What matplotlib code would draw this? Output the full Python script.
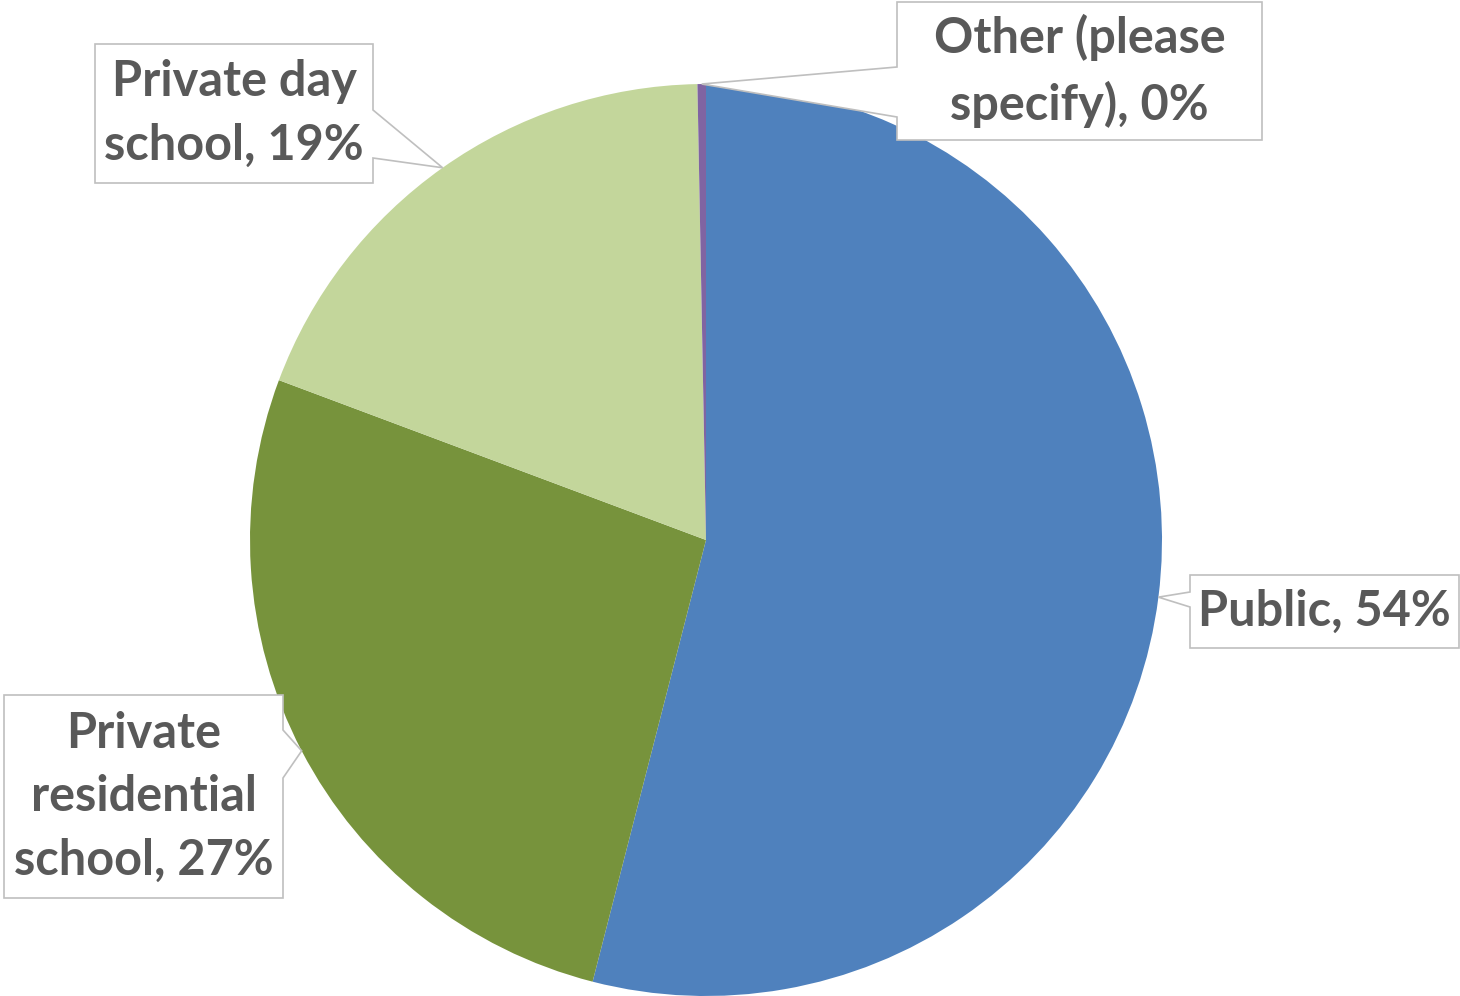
import numpy as np
import matplotlib.pyplot as plt
from matplotlib.patches import Polygon

# data
labels = ['Public', 'Private residential school', 'Private day school', 'Other (please specify)']
values = [54.0, 26.7, 19.0, 0.3]
shown_pct = ['54%', '27%', '19%', '0%']
label_text = ['Public, 54%', 'Private\nresidential\nschool, 27%',
              'Private day\nschool, 19%', 'Other (please\nspecify), 0%']
colors = ['#4F81BD', '#77933C', '#C3D69B', '#8064A2']

W, H = 1460, 996

# callout boxes in pixel coords: (x0, y0, x1, y1), side of pointer, notch (ya, yb)
boxes = [
    ((1190, 575, 1459, 648), 'left', (592, 607)),
    ((4, 695, 283, 898), 'right', (730, 778)),
    ((95, 44, 373, 183), 'right', (110, 158)),
    ((897, 2, 1262, 140), 'left', (67, 117)),
]

fig = plt.figure(figsize=(W / 100, H / 100), dpi=100)
ax = fig.add_axes([0, 0, 1, 1])

cx, cy, R = 706, 540, 456
wedges, _ = ax.pie(values, colors=colors, startangle=90, counterclock=False,
                   center=(cx, H - cy), radius=R,
                   wedgeprops=dict(linewidth=0))

for w, txt, (box, side, (ya, yb)) in zip(wedges, label_text, boxes):
    # pointer tip at the middle of the wedge's outer arc
    mid = np.deg2rad((w.theta1 + w.theta2) / 2)
    tx = w.center[0] + w.r * np.cos(mid)
    ty = w.center[1] + w.r * np.sin(mid)
    x0, y0, x1, y1 = box
    # build the callout outline going around (pixel y down)
    if side == 'left':
        pts = [(x0, y0), (x1, y0), (x1, y1), (x0, y1), (x0, yb), None, (x0, ya)]
    else:
        pts = [(x0, y0), (x1, y0), (x1, ya), None, (x1, yb), (x1, y1), (x0, y1)]
    verts = []
    for p in pts:
        if p is None:
            verts.append((tx, ty))
        else:
            verts.append((p[0], H - p[1]))
    ax.add_patch(Polygon(verts, closed=True, facecolor='white',
                         edgecolor='#BFBFBF', linewidth=1.2, zorder=3))
    ax.text((x0 + x1) / 2, H - (y0 + y1) / 2, txt, ha='center', va='center',
            fontsize=35, fontweight='bold', color='#595959', family='Lato',
            linespacing=1.5, zorder=4)

ax.set_xlim(0, W)
ax.set_ylim(0, H)
ax.set_aspect('equal')
ax.axis('off')

fig.savefig('out.png', dpi=100, facecolor='white')
